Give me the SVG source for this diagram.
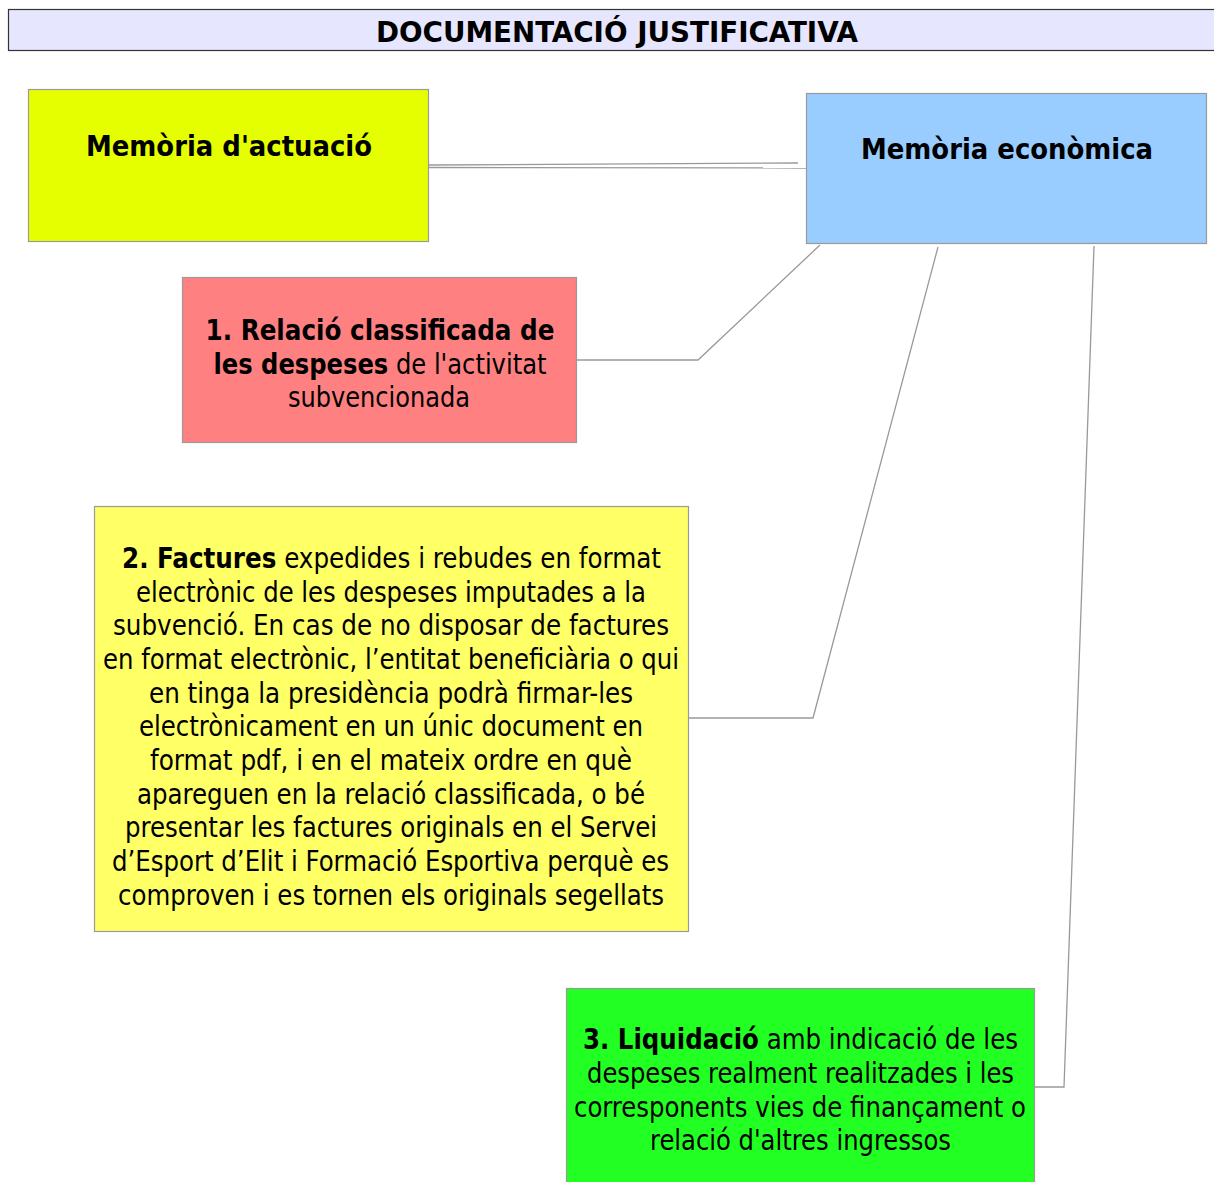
<svg xmlns="http://www.w3.org/2000/svg" width="1214" height="1182" viewBox="0 0 1214 1182">
<style>
text{font-family:"DejaVu Sans Condensed","DejaVu Sans",sans-serif;font-size:28px;fill:#000;text-anchor:middle}
.b{font-weight:bold}
.box{stroke:#9a9a9a;stroke-width:1.2}
.con{fill:none;stroke:#999;stroke-width:1.3}
</style>
<rect width="1214" height="1182" fill="#fff"/>
<g id="header">
<rect x="8.5" y="9.5" width="1210" height="41" fill="#e6e6ff" stroke="#333" stroke-width="1.2"/>
<text class="b" x="617" y="42" textLength="482" lengthAdjust="spacingAndGlyphs">DOCUMENTACIÓ JUSTIFICATIVA</text>
</g>
<g id="connectors">
<polyline class="con" points="429,165 798,163"/>
<polyline class="con" points="429,167.5 806,168"/>
<polyline class="con" points="577,360 698,360 820,245"/>
<polyline class="con" points="689,718 813,718 938,247"/>
<polyline class="con" points="1034,1087 1064,1087 1094,246"/>
</g>
<g id="memoria-actuacio">
<rect class="box" x="28.5" y="89.5" width="400" height="152" fill="#e6ff00"/>
<text class="b" x="229" y="156" textLength="286" lengthAdjust="spacingAndGlyphs">Memòria d'actuació</text>
</g>
<g id="memoria-economica">
<rect class="box" x="806.5" y="93.5" width="400" height="150" fill="#99ccff"/>
<text class="b" x="1007" y="159" textLength="292" lengthAdjust="spacingAndGlyphs">Memòria econòmica</text>
</g>
<g id="relacio">
<rect class="box" x="182.5" y="277.5" width="394" height="165" fill="#ff8080"/>
<text x="380" y="340" textLength="349" lengthAdjust="spacingAndGlyphs"><tspan class="b">1. Relació classificada de</tspan></text>
<text x="380" y="374" textLength="333" lengthAdjust="spacingAndGlyphs"><tspan class="b">les despeses</tspan> de l'activitat</text>
<text x="379" y="407" textLength="182" lengthAdjust="spacingAndGlyphs">subvencionada</text>
</g>
<g id="factures">
<rect class="box" x="94.5" y="506.5" width="594" height="425" fill="#ffff66"/>
<text x="391.5" y="568" textLength="539" lengthAdjust="spacingAndGlyphs"><tspan class="b">2. Factures</tspan> expedides i rebudes en format</text>
<text x="391" y="602" textLength="510" lengthAdjust="spacingAndGlyphs">electrònic de les despeses imputades a la</text>
<text x="391" y="635" textLength="556" lengthAdjust="spacingAndGlyphs">subvenció. En cas de no disposar de factures</text>
<text x="391" y="669" textLength="576" lengthAdjust="spacingAndGlyphs">en format electrònic, l’entitat beneficiària o qui</text>
<text x="391" y="703" textLength="484" lengthAdjust="spacingAndGlyphs">en tinga la presidència podrà firmar-les</text>
<text x="391" y="736" textLength="504" lengthAdjust="spacingAndGlyphs">electrònicament en un únic document en</text>
<text x="391" y="770" textLength="482" lengthAdjust="spacingAndGlyphs">format pdf, i en el mateix ordre en què</text>
<text x="391" y="804" textLength="508" lengthAdjust="spacingAndGlyphs">apareguen en la relació classificada, o bé</text>
<text x="391" y="837" textLength="532" lengthAdjust="spacingAndGlyphs">presentar les factures originals en el Servei</text>
<text x="390.5" y="871" textLength="557" lengthAdjust="spacingAndGlyphs">d’Esport d’Elit i Formació Esportiva perquè es</text>
<text x="391" y="905" textLength="546" lengthAdjust="spacingAndGlyphs">comproven i es tornen els originals segellats</text>
</g>
<g id="liquidacio">
<rect class="box" x="566.5" y="988.5" width="468" height="200" fill="#22ff22"/>
<text x="800.5" y="1049" textLength="435" lengthAdjust="spacingAndGlyphs"><tspan class="b">3. Liquidació</tspan> amb indicació de les</text>
<text x="800.5" y="1083" textLength="427" lengthAdjust="spacingAndGlyphs">despeses realment realitzades i les</text>
<text x="800" y="1117" textLength="452" lengthAdjust="spacingAndGlyphs">corresponents vies de finançament o</text>
<text x="800.5" y="1150" textLength="301" lengthAdjust="spacingAndGlyphs">relació d'altres ingressos</text>
</g>
</svg>
